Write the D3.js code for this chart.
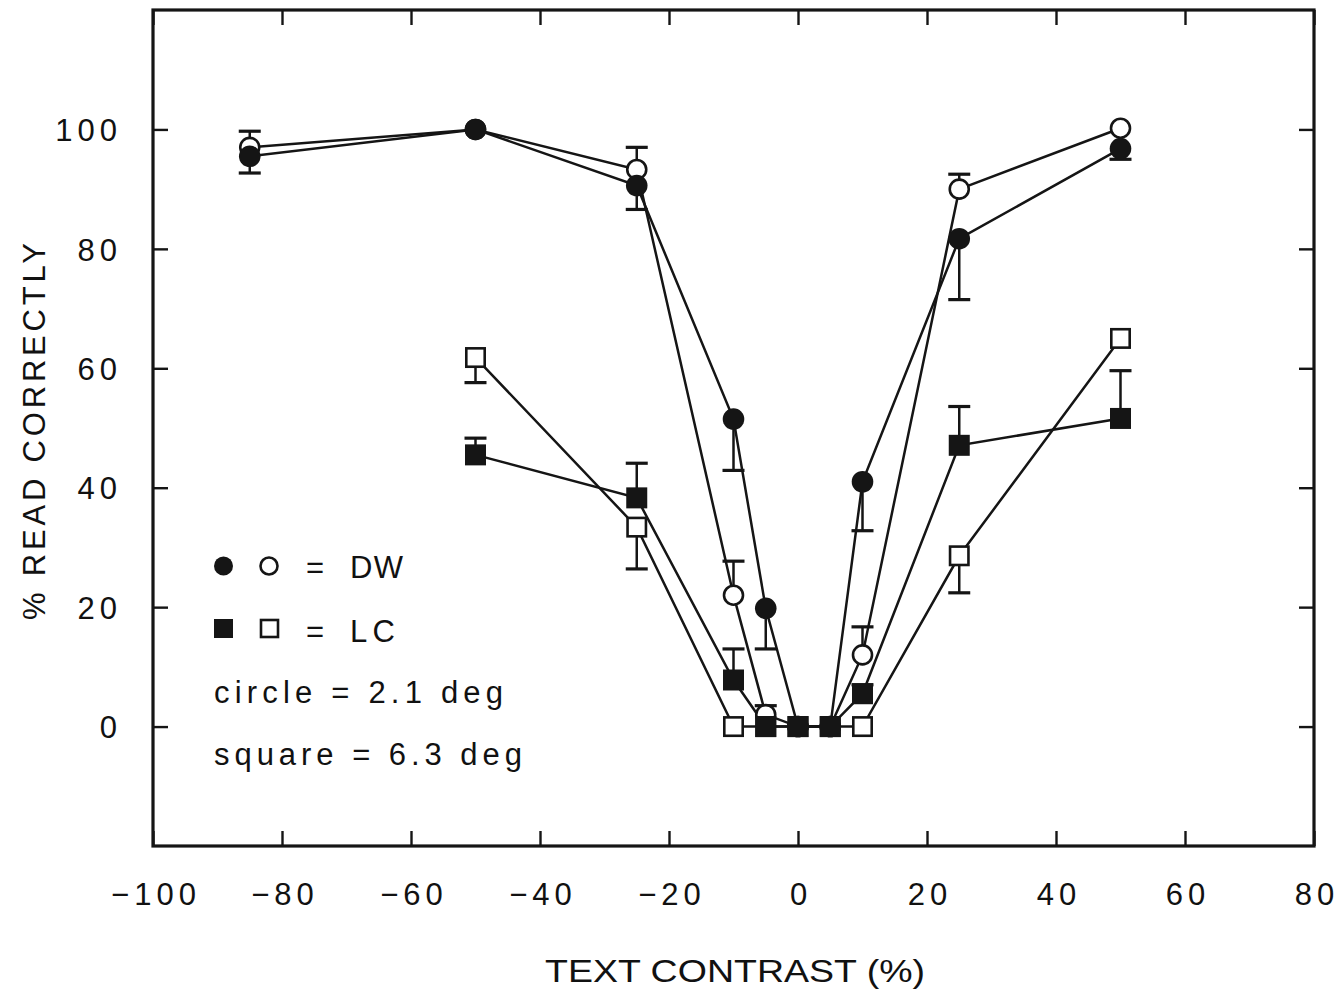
<!DOCTYPE html>
<html>
<head>
<meta charset="utf-8">
<script src="https://cdn.jsdelivr.net/npm/d3@7"></script>
<style>
  body { margin: 0; background: #fff; }
  svg text { font-family: "Liberation Sans", Arial, sans-serif; fill: #111; }
</style>
</head>
<body>
<svg id="chart" width="1343" height="992"></svg>
<script>
// contrast levels (%) and % read correctly
var contrast = [-85, -50, -25, -10, -5, 0, 5, 10, 25, 50];
var dwFilled = [95.5, 100, 90.6, 51.5, 19.8, 0, 0, 41, 81.7, 96.8];
var dwFilledErr = [2.8, 0, 4, 8.6, 6.8, 0, 0, 8.2, 10.2, 1.8];
var dwOpen = [97, 100, 93.3, 22, 2, 0, 0, 12, 90, 100.2];
var dwOpenErr = [2.7, 0, 3.7, 5.7, 1.5, 0, 0, 4.7, 2.5, 0];

var lcContrast = [-50, -25, -10, -5, 0, 5, 10, 25, 50];
var lcFilled = [45.5, 38.3, 7.8, 0, 0, 0, 5.5, 47.1, 51.6];
var lcFilledErr = [2.8, 5.8, 5.2, 0, 0, 0, 1.5, 6.5, 8];
var lcOpen = [61.8, 33.4, 0, 0, 0, 0, 0, 28.6, 65];
var lcOpenErr = [4.2, 7, 0, 0, 0, 0, 0, 6.2, 0];

var xTicks = [-100, -80, -60, -40, -20, 0, 20, 40, 60, 80];
var yTicks = [0, 20, 40, 60, 80, 100];

function zip(xs, ys, es) {
  return xs.map(function(x, i) { return {x: x, y: ys[i], err: es[i]}; });
}

// draw order: open circles, filled circles, open squares, filled squares
var series = [
  {name: "dwOpen", shape: "circle", filled: false, dir: 1, values: zip(contrast, dwOpen, dwOpenErr)},
  {name: "dwFilled", shape: "circle", filled: true, dir: -1, values: zip(contrast, dwFilled, dwFilledErr)},
  {name: "lcOpen", shape: "square", filled: false, dir: -1, values: zip(lcContrast, lcOpen, lcOpenErr)},
  {name: "lcFilled", shape: "square", filled: true, dir: 1, values: zip(lcContrast, lcFilled, lcFilledErr)}
];

var svg = d3.select("#chart");
var plotL = 153, plotR = 1314, plotT = 10, plotB = 846;

var x = d3.scaleLinear().domain([-100, 80]).range([plotL, plotR]);
var y = d3.scaleLinear().domain([-20, 120]).range([plotB, plotT]);
var ink = "#151515";

// axes (ticks point inward)
var fmt = function(d) { return d < 0 ? "\u2212" + Math.abs(d) : d; };

var gx = svg.append("g")
  .attr("transform", "translate(0," + plotB + ")")
  .call(d3.axisBottom(x).tickValues(xTicks).tickSizeInner(-15).tickSizeOuter(0).tickPadding(37).tickFormat(fmt));
svg.append("g")
  .attr("transform", "translate(0," + plotT + ")")
  .call(d3.axisTop(x).tickValues(xTicks).tickSizeInner(-15).tickSizeOuter(0).tickFormat(""));
var gy = svg.append("g")
  .attr("transform", "translate(" + plotL + ",0)")
  .call(d3.axisLeft(y).tickValues(yTicks).tickSizeInner(-15).tickSizeOuter(0).tickPadding(31));
svg.append("g")
  .attr("transform", "translate(" + plotR + ",0)")
  .call(d3.axisRight(y).tickValues(yTicks).tickSizeInner(-15).tickSizeOuter(0).tickFormat(""));

svg.selectAll(".domain").remove();
svg.selectAll(".tick line").attr("stroke", ink).attr("stroke-width", 2.4);
svg.selectAll(".tick text")
  .attr("fill", "#111")
  .style("font-size", "31px")
  .style("letter-spacing", "5px");
gx.selectAll(".tick text").attr("dx", "2.5px");
gy.selectAll(".tick text").attr("dy", "0.36em");

svg.append("rect")
  .attr("x", plotL).attr("y", plotT)
  .attr("width", plotR - plotL).attr("height", plotB - plotT)
  .attr("fill", "none").attr("stroke", ink).attr("stroke-width", 3.2);

// connecting lines
var line = d3.line()
  .x(function(d) { return x(d.x); })
  .y(function(d) { return y(d.y); });

svg.append("g").selectAll("path")
  .data(series)
  .enter().append("path")
  .attr("d", function(d) { return line(d.values); })
  .attr("fill", "none")
  .attr("stroke", ink)
  .attr("stroke-width", 2.5);

// one-sided error bars
var capW = 11;
var eb = svg.append("g");
series.forEach(function(s) {
  s.values.filter(function(d) { return d.err > 0; }).forEach(function(d) {
    var y0 = y(d.y), y1 = y(d.y + s.dir * d.err);
    eb.append("line")
      .attr("x1", x(d.x)).attr("x2", x(d.x))
      .attr("y1", y0).attr("y2", y1)
      .attr("stroke", ink).attr("stroke-width", 2.5);
    eb.append("line")
      .attr("x1", x(d.x) - capW).attr("x2", x(d.x) + capW)
      .attr("y1", y1).attr("y2", y1)
      .attr("stroke", ink).attr("stroke-width", 3.2);
  });
});

// markers
var r = 10.8, half = 10.5;
series.forEach(function(s) {
  var g = svg.append("g");
  var fill = s.filled ? ink : "#fff";
  if (s.shape == "circle") {
    g.selectAll("circle").data(s.values).enter().append("circle")
      .attr("cx", function(d) { return x(d.x); })
      .attr("cy", function(d) { return y(d.y); })
      .attr("r", s.filled ? r : r - 1.3)
      .attr("fill", fill).attr("stroke", ink).attr("stroke-width", s.filled ? 0 : 2.6);
  } else {
    var h = s.filled ? half : half - 1.3;
    g.selectAll("rect").data(s.values).enter().append("rect")
      .attr("x", function(d) { return x(d.x) - h; })
      .attr("y", function(d) { return y(d.y) - h; })
      .attr("width", 2 * h).attr("height", 2 * h)
      .attr("fill", fill).attr("stroke", ink).attr("stroke-width", s.filled ? 0 : 2.6);
  }
});

// legend
var lg = svg.append("g");
lg.append("circle").attr("cx", 223.5).attr("cy", 566).attr("r", 9.5).attr("fill", ink);
lg.append("circle").attr("cx", 269).attr("cy", 566).attr("r", 8.5).attr("fill", "#fff").attr("stroke", ink).attr("stroke-width", 2.6);
lg.append("rect").attr("x", 214).attr("y", 619).attr("width", 19).attr("height", 19).attr("fill", ink);
lg.append("rect").attr("x", 261).attr("y", 620).attr("width", 17).attr("height", 17).attr("fill", "#fff").attr("stroke", ink).attr("stroke-width", 2.6);

var legendText = [
  {t: "=", x: 306, y: 578, w: 0},
  {t: "DW", x: 350, y: 578, w: 53},
  {t: "=", x: 306, y: 642, w: 0},
  {t: "LC", x: 350, y: 642, w: 45},
  {t: "circle = 2.1 deg", x: 214, y: 703, w: 289},
  {t: "square = 6.3 deg", x: 214, y: 765, w: 308}
];
lg.selectAll("text").data(legendText).enter().append("text")
  .attr("x", function(d) { return d.x; })
  .attr("y", function(d) { return d.y; })
  .attr("textLength", function(d) { return d.w || null; })
  .attr("lengthAdjust", "spacing")
  .style("font-size", "31px")
  .text(function(d) { return d.t; });

// axis titles
svg.append("text")
  .attr("x", 545).attr("y", 982)
  .attr("textLength", 380).attr("lengthAdjust", "spacingAndGlyphs")
  .style("font-size", "32px")
  .text("TEXT CONTRAST (%)");

svg.append("text")
  .attr("transform", "translate(45,620) rotate(-90)")
  .attr("textLength", 377).attr("lengthAdjust", "spacing")
  .style("font-size", "31px")
  .text("% READ CORRECTLY");
</script>
</body>
</html>
